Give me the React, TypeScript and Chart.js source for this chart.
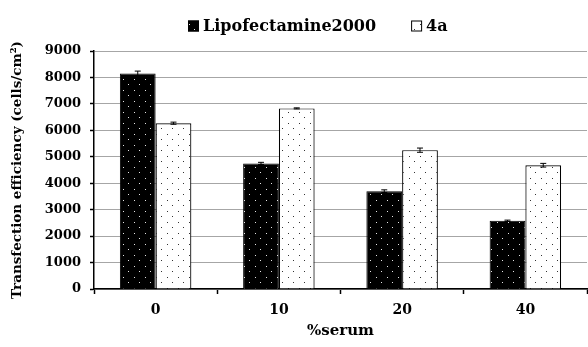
import React, { useEffect, useRef } from "react";
import { Chart, registerables } from "chart.js";

Chart.register(...registerables);

const categories = ["0", "10", "20", "40"];
const seriesNames = ["Lipofectamine2000", "4a"];
const lipofectamine = [8150, 4750, 3700, 2580];
const lipofectamineErr = [90, 40, 50, 25];
const compound4a = [6270, 6830, 5250, 4680];
const compound4aErr = [40, 20, 80, 70];
const yMin = 0;
const yMax = 9000;
const yStep = 1000;
const xTitle = "%serum";
const yTitle = "Transfection efficiency (cells/cm\u00B2)";

const FONT = "'DejaVu Serif', 'Liberation Serif', serif";

function makeDots(bg: string, dot: string): CanvasPattern | string {
  const c = document.createElement("canvas");
  c.width = 11;
  c.height = 11;
  const g = c.getContext("2d");
  if (!g) return bg;
  g.fillStyle = bg;
  g.fillRect(0, 0, 11, 11);
  g.fillStyle = dot;
  g.fillRect(2, 2, 1, 1);
  g.fillRect(7, 7, 1, 1);
  return g.createPattern(c, "repeat") || bg;
}

const errorBarPlugin = {
  id: "errorBars",
  afterDatasetsDraw(chart: any) {
    const ctx = chart.ctx;
    const yScale = chart.scales.y;
    chart.data.datasets.forEach((ds: any, di: number) => {
      const meta = chart.getDatasetMeta(di);
      const errs: number[] = ds.errors || [];
      meta.data.forEach((bar: any, i: number) => {
        const v = ds.data[i];
        const e = errs[i] || 0;
        const yTop = yScale.getPixelForValue(v + e);
        const yBot = yScale.getPixelForValue(v - e);
        const x = bar.x;
        ctx.save();
        ctx.strokeStyle = "#000";
        ctx.lineWidth = 1;
        ctx.beginPath();
        ctx.moveTo(x, yTop);
        ctx.lineTo(x, yBot);
        ctx.moveTo(x - 3, yTop);
        ctx.lineTo(x + 3, yTop);
        ctx.moveTo(x - 3, yBot);
        ctx.lineTo(x + 3, yBot);
        ctx.stroke();
        ctx.restore();
      });
    });
  },
};

const legendPlugin = {
  id: "customLegend",
  afterDraw(chart: any) {
    const ctx = chart.ctx;
    const box = 11;
    const gapText = 4;
    const gapItem = 35;
    const centerX = 318;
    const centerY = 26;
    ctx.save();
    ctx.font = `bold 16px ${FONT}`;
    ctx.textBaseline = "middle";
    ctx.textAlign = "left";
    const items = chart.data.datasets.map((ds: any) => ({
      text: ds.label,
      fill: ds.backgroundColor,
      w: ctx.measureText(ds.label).width,
    }));
    let total = 0;
    items.forEach((it: any, i: number) => {
      total += box + gapText + it.w + (i < items.length - 1 ? gapItem : 0);
    });
    let x = Math.round(centerX - total / 2);
    items.forEach((it: any) => {
      ctx.fillStyle = it.fill;
      ctx.fillRect(x, centerY - box / 2, box, box);
      ctx.strokeStyle = "#000";
      ctx.lineWidth = 1;
      ctx.strokeRect(x + 0.5, centerY - box / 2 + 0.5, box - 1, box - 1);
      ctx.fillStyle = "#000";
      ctx.fillText(it.text, x + box + gapText, centerY + 1);
      x += box + gapText + it.w + gapItem;
    });
    ctx.restore();
  },
};

export default function App() {
  const canvasRef = useRef<HTMLCanvasElement | null>(null);

  useEffect(() => {
    if (!canvasRef.current) return;
    const blackDots = makeDots("#000000", "#e6e6e6");
    const whiteDots = makeDots("#ffffff", "#333333");
    const chart = new Chart(canvasRef.current, {
      type: "bar",
      data: {
        labels: categories,
        datasets: [
          {
            label: seriesNames[0],
            data: lipofectamine,
            errors: lipofectamineErr,
            backgroundColor: blackDots,
            borderColor: "#000",
            borderWidth: 1,
            barPercentage: 1,
            categoryPercentage: 0.58,
          } as any,
          {
            label: seriesNames[1],
            data: compound4a,
            errors: compound4aErr,
            backgroundColor: whiteDots,
            borderColor: "#000",
            borderWidth: 1.2,
            barPercentage: 1,
            categoryPercentage: 0.58,
          } as any,
        ],
      },
      options: {
        responsive: false,
        animation: false,
        layout: { padding: { top: 51, right: 1, bottom: 0, left: 0 } },
        plugins: {
          legend: { display: false },
          tooltip: { enabled: false },
          title: { display: false },
        },
        scales: {
          x: {
            offset: true,
            grid: {
              display: true,
              drawOnChartArea: false,
              drawTicks: true,
              tickLength: 5,
              tickColor: "#000",
              tickWidth: 1.5,
              offset: true,
            },
            border: { display: true, color: "#000", width: 1.5 },
            ticks: {
              color: "#000",
              padding: 8,
              font: { family: FONT, size: 14, weight: "bold" },
            },
            title: {
              display: true,
              text: xTitle,
              color: "#000",
              font: { family: FONT, size: 15, weight: "bold" },
              padding: { top: 0, bottom: 7 },
            },
            afterFit: (s: any) => {
              s.height = 58;
            },
          },
          y: {
            min: yMin,
            max: yMax,
            ticks: {
              stepSize: yStep,
              color: "#000",
              padding: 9,
              font: { family: FONT, size: 13, weight: "bold" },
              callback: (v: any) => String(v),
            },
            grid: {
              color: "#a6a6a6",
              lineWidth: 1,
              drawTicks: true,
              tickLength: 4,
              tickColor: "#000",
              tickWidth: 1.5,
            },
            border: { display: true, color: "#000", width: 1.5 },
            title: {
              display: true,
              text: yTitle,
              color: "#000",
              font: { family: FONT, size: 13.5, weight: "bold" },
              padding: { top: 9, bottom: 0 },
            },
            afterFit: (s: any) => {
              s.width = 94;
            },
          },
        },
      } as any,
      plugins: [errorBarPlugin, legendPlugin],
    });
    return () => chart.destroy();
  }, []);

  return (
    <div style={{ position: "absolute", left: 0, top: 0, width: 588, height: 347, background: "#fff" }}>
      <canvas ref={canvasRef} width={588} height={347} style={{ display: "block" }} />
    </div>
  );
}
